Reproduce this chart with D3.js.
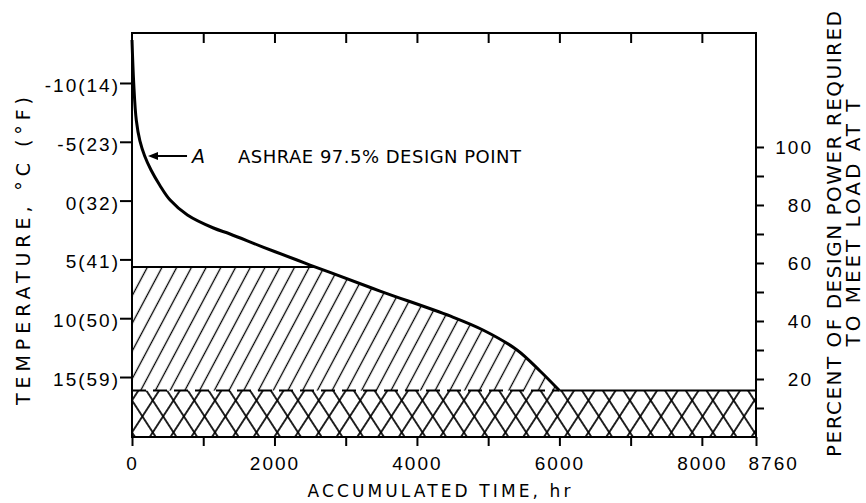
<!DOCTYPE html>
<html>
<head>
<meta charset="utf-8">
<script src="https://cdn.jsdelivr.net/npm/d3@7"></script>
<style>
  html, body { margin: 0; padding: 0; background: #fff; }
  svg { display: block; font-family: "DejaVu Sans", sans-serif; }
  .axis text { font-size: 19px; fill: #000; letter-spacing: 2px; }
  .axis line { stroke: #000; stroke-width: 2px; }
  .axis .domain { display: none; }
  .title { font-size: 19px; fill: #000; }
  .frame { fill: none; stroke: #000; stroke-width: 2px; }
  .curve { fill: none; stroke: #000; stroke-width: 3px; }
  .edge { stroke: #000; stroke-width: 2px; }
  .dashed { stroke-dasharray: 14 7; }
</style>
</head>
<body>
<svg id="chart" width="866" height="503"></svg>
<script>
// temperature-duration curve
const hours = [0, 24, 60, 111, 178, 267, 388, 535, 778, 1143, 1376, 1839, 2316, 2499, 2780, 3482, 4464, 4927, 5405, 5728, 6000];
const tempC = [-13.65, -10.0, -6.85, -5.07, -3.79, -2.6, -1.33, -0.05, 1.22, 2.33, 2.84, 3.95, 5.05, 5.48, 6.11, 7.69, 9.81, 11.0, 12.7, 14.49, 16.15];

// shaded bands, in percent of design power
const hatchTopPct = 58.6;
const baseLoadPct = 16;

const timeTicks = [0, 1000, 2000, 3000, 4000, 5000, 6000, 7000, 8000, 8760];
const timeLabels = [0, 2000, 4000, 6000, 8000, 8760];
const tempTicks = [-10, -5, 0, 5, 10, 15];
const tempLabels = ["-10(14)", "-5(23)", "0(32)", "5(41)", "10(50)", "15(59)"];
const pctTicks = [10, 20, 30, 40, 50, 60, 70, 80, 90, 100];
const pctLabels = [20, 40, 60, 80, 100];

const designPoint = { hour: 225, tempC: -3.8, label: "ASHRAE 97.5% DESIGN POINT", tag: "A" };

const margin = { top: 33, right: 110, bottom: 66, left: 132 };
const width = 866 - margin.left - margin.right;
const height = 503 - margin.top - margin.bottom;

const svg = d3.select("#chart");
const defs = svg.append("defs");
const chart = svg.append("g").attr("transform", `translate(${margin.left},${margin.top})`);

const x = d3.scaleLinear().domain([0, 8760]).range([0, width]);
const yT = d3.scaleLinear().domain([-14.25, 20.1]).range([0, height]);
const yP = d3.scaleLinear().domain([0, 139.3]).range([height, 0]);

const points = hours.map((h, i) => ({ hour: h, temp: tempC[i] }));

// hatch patterns
function hatch(id, angle, gap, sw) {
  const p = defs.append("pattern")
    .attr("id", id)
    .attr("patternUnits", "userSpaceOnUse")
    .attr("width", gap).attr("height", 10)
    .attr("patternTransform", `rotate(${angle})`);
  p.append("line")
    .attr("x1", gap / 2).attr("x2", gap / 2)
    .attr("y1", -1).attr("y2", 11)
    .attr("stroke", "#000").attr("stroke-width", sw);
}
hatch("diag", 28, 13, 1.3);
hatch("crossA", 33, 17.4, 1.7);
hatch("crossB", -33, 17.4, 1.7);

const smooth = d3.curveCatmullRom.alpha(0.5);

// area below the curve, used to clip the single hatch
const under = d3.area()
  .x(d => x(d.hour))
  .y0(height)
  .y1(d => yT(d.temp))
  .curve(smooth);
defs.append("clipPath").attr("id", "under")
  .append("path").datum(points).attr("d", under);

// base load crosshatch
["crossA", "crossB"].forEach(id => {
  chart.append("rect")
    .attr("x", x(0)).attr("width", x(8760) - x(0))
    .attr("y", yP(baseLoadPct)).attr("height", yP(0) - yP(baseLoadPct))
    .attr("fill", `url(#${id})`);
});

// single hatch between base load and hatch top
const hatched = chart.append("g").attr("clip-path", "url(#under)");
hatched.append("rect")
  .attr("x", x(0)).attr("width", x(8760) - x(0))
  .attr("y", yP(hatchTopPct)).attr("height", yP(baseLoadPct) - yP(hatchTopPct))
  .attr("fill", "url(#diag)");
hatched.append("line").attr("class", "edge")
  .attr("x1", x(0)).attr("x2", x(8760))
  .attr("y1", yP(hatchTopPct)).attr("y2", yP(hatchTopPct));

const lastHour = hours[hours.length - 1];
chart.append("line").attr("class", "edge dashed")
  .attr("x1", x(0)).attr("x2", x(lastHour))
  .attr("y1", yP(baseLoadPct)).attr("y2", yP(baseLoadPct));
chart.append("line").attr("class", "edge")
  .attr("x1", x(lastHour)).attr("x2", x(8760))
  .attr("y1", yP(baseLoadPct)).attr("y2", yP(baseLoadPct));

// the curve
const line = d3.line()
  .x(d => x(d.hour))
  .y(d => yT(d.temp))
  .curve(smooth);
chart.append("path").datum(points).attr("class", "curve").attr("d", line);

chart.append("rect").attr("class", "frame")
  .attr("x", 0).attr("y", 0).attr("width", width).attr("height", height);

// axes
const bottom = chart.append("g").attr("class", "axis")
  .attr("transform", `translate(0,${height})`)
  .call(d3.axisBottom(x).tickValues(timeTicks).tickSize(9)
    .tickFormat(d => timeLabels.includes(d) ? d : ""));
bottom.selectAll("text").attr("y", 33).attr("dy", 0)
  .filter(d => d === 8760).attr("text-anchor", "start").attr("x", -8);

chart.append("g").attr("class", "axis")
  .call(d3.axisTop(x).tickValues(timeTicks.filter(d => d > 0 && d < 8760))
    .tickSizeInner(-10).tickSizeOuter(0).tickFormat(""));

const left = chart.append("g").attr("class", "axis")
  .call(d3.axisLeft(yT).tickValues(tempTicks).tickSize(12)
    .tickFormat((d, i) => tempLabels[i]));
left.selectAll("text").attr("x", -12).attr("dy", "0.45em");

const right = chart.append("g").attr("class", "axis")
  .attr("transform", `translate(${width},0)`)
  .call(d3.axisRight(yP).tickValues(pctTicks).tickSize(8)
    .tickFormat(d => pctLabels.includes(d) ? d : ""));
right.selectAll("text").attr("x", 57).attr("text-anchor", "end").attr("dy", "0.36em");

// titles
svg.append("text").attr("class", "title")
  .attr("transform", "translate(30,251) rotate(-90)")
  .attr("text-anchor", "middle")
  .attr("textLength", 308).attr("lengthAdjust", "spacing")
  .text("TEMPERATURE, °C (°F)");

svg.append("text").attr("class", "title")
  .style("font-size", "20px")
  .attr("transform", "translate(841,234) rotate(-90)")
  .attr("text-anchor", "middle")
  .attr("textLength", 446).attr("lengthAdjust", "spacing")
  .text("PERCENT OF DESIGN POWER REQUIRED");

svg.append("text").attr("class", "title")
  .style("font-size", "20px")
  .attr("transform", "translate(860,223) rotate(-90)")
  .attr("text-anchor", "middle")
  .attr("textLength", 247).attr("lengthAdjust", "spacing")
  .text("TO MEET LOAD AT T");

svg.append("text").attr("class", "title")
  .style("font-size", "17px")
  .attr("x", 439).attr("y", 497)
  .attr("text-anchor", "middle")
  .attr("textLength", 263).attr("lengthAdjust", "spacing")
  .text("ACCUMULATED TIME, hr");

// design point annotation
const ann = chart.append("g")
  .attr("transform", `translate(${x(designPoint.hour)},${yT(designPoint.tempC)})`);
ann.append("line").attr("x1", 6).attr("x2", 39).attr("y1", 0).attr("y2", 0)
  .attr("stroke", "#000").attr("stroke-width", 2);
ann.append("path").attr("d", "M0,0L10,-4L10,4Z").attr("fill", "#000");
ann.append("text").attr("class", "title")
  .style("font-style", "italic")
  .attr("x", 44).attr("y", 7)
  .text(designPoint.tag);
ann.append("text").attr("class", "title")
  .style("font-size", "18px")
  .attr("x", 90).attr("y", 7)
  .attr("textLength", 283).attr("lengthAdjust", "spacing")
  .text(designPoint.label);
</script>
</body>
</html>
